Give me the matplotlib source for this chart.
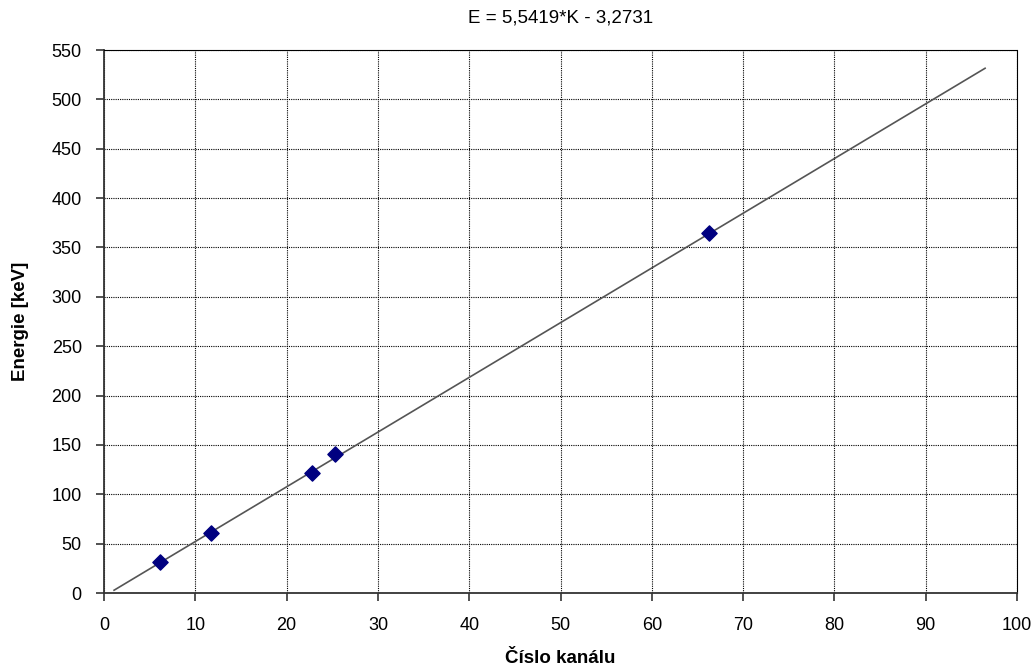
import numpy as np
import matplotlib
matplotlib.use("Agg")
import matplotlib.pyplot as plt

plt.rcParams['font.family'] = ['Liberation Sans', 'DejaVu Sans']

# Kalibrace: číslo kanálu vs. energie
kanal = [6.1, 11.7, 22.8, 25.3, 66.3]
energie = [31.0, 60.5, 122.0, 140.5, 365.0]

# Lineární trend E = a*K + b
a = 5.5419
b = -3.2731
k_od, k_do = 1.1, 96.5

fig = plt.figure(figsize=(10.36, 6.66), dpi=100)
ax = fig.add_axes([0.1004, 0.1096, 0.8813, 0.8153])

k_fit = np.array([k_od, k_do])
ax.plot(k_fit, a * k_fit + b, color='#555555', lw=1.2, zorder=2)
ax.scatter(kanal, energie, marker='D', s=60, color='#000080', zorder=3)

ax.set_xlim(0, 100)
ax.set_ylim(0, 550)
ax.set_xticks(np.arange(0, 101, 10))
ax.set_yticks(np.arange(0, 551, 50))
ax.grid(True, color='black', linestyle=(0, (1, 1)), linewidth=0.8)
ax.set_axisbelow(True)

for side in ('top', 'right'):
    ax.spines[side].set_linestyle((0, (1, 1)))
    ax.spines[side].set_linewidth(0.8)
for side in ('left', 'bottom'):
    ax.spines[side].set_color('#333333')
    ax.spines[side].set_linewidth(1.3)

ax.tick_params(direction='out', length=6, width=1.2, labelsize=13, color='#333333')
ax.tick_params(axis='y', pad=10)
ax.tick_params(axis='x', pad=11)

ax.set_title('E = 5,5419*K - 3,2731', fontsize=13.5, pad=20)
ax.set_xlabel('Číslo kanálu', fontsize=13.5, fontweight='bold', labelpad=12)
ax.set_ylabel('Energie [keV]', fontsize=13.5, fontweight='bold', labelpad=16)

fig.savefig('out.png', dpi=100)
